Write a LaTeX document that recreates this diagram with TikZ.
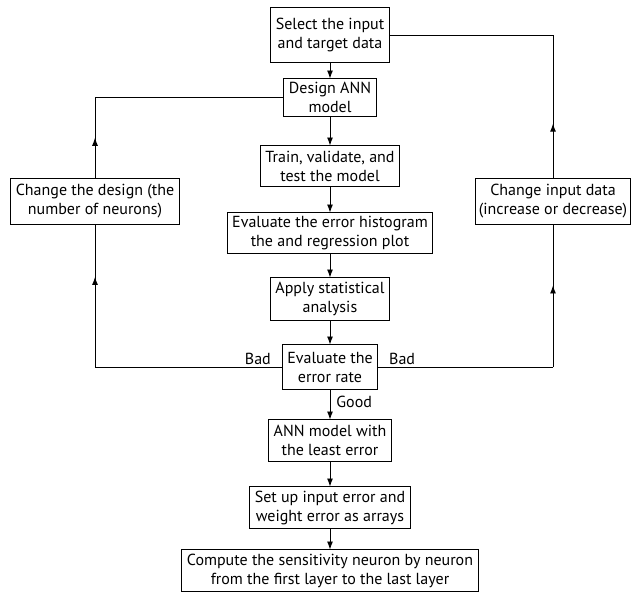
\documentclass[tikz,border=0pt]{standalone}
\usepackage{fontspec}
\setmainfont{PT Sans}
\usepackage{tikz}
\usetikzlibrary{arrows.meta,positioning,decorations.markings}
\tikzset{
  box/.style={rectangle, draw=black, line width=0.9pt, fill=white, align=center, inner xsep=5pt, inner ysep=1pt, outer sep=0pt, minimum height=42pt, font=\fontsize{16}{19}\selectfont},
  arrow/.style={-{Latex[length=8pt,width=6pt]}, line width=0.9pt},
  line/.style={line width=0.9pt},
  midarrow/.style={line width=0.9pt, postaction={decorate}, decoration={markings, mark=at position #1 with {\arrow{Latex[length=8pt,width=6pt]}}}},
  lbl/.style={font=\fontsize{16}{19}\selectfont}
}
\begin{document}
\begin{tikzpicture}[x=1pt, y=1pt]
  \useasboundingbox (0,0) rectangle (640,-595);
  \node[box, minimum height=55pt] (select) at (330,-35) {Select the input\\and target data};
  \node[box, minimum height=38pt, below=16pt of select] (design) {Design ANN\\model};
  \node[box, minimum height=41pt, below=29pt of design] (train) {Train, validate, and\\test the model};
  \node[box, minimum height=41pt, below=26pt of train] (histo) {Evaluate the error histogram\\the and regression plot};
  \node[box, minimum height=43pt, below=24pt of histo] (stats) {Apply statistical\\analysis};
  \node[box, minimum height=45pt, below=24pt of stats] (rate) {Evaluate the\\error rate};
  \node[box, below=30pt of rate] (least) {ANN model with\\the least error};
  \node[box, below=25pt of least] (arrays) {Set up input error and\\weight error as arrays};
  \node[box, below=21pt of arrays] (sens) {Compute the sensitivity neuron by neuron\\from the first layer to the last layer};
  \node[box, minimum height=46pt] (neurons) at (95,-201) {Change the design (the\\number of neurons)};
  \node[box, minimum height=46pt, inner xsep=3pt] (newdata) at (553,-201) {Change input data\\(increase or decrease)};
  \coordinate (lc) at (neurons.north |- design.west);
  \coordinate (rc) at (newdata.north |- select.east);

  \draw[arrow] (select) -- (design);
  \draw[arrow] (design) -- (train);
  \draw[arrow] (train) -- (histo);
  \draw[arrow] (histo) -- (stats);
  \draw[arrow] (stats) -- (rate);
  \draw[arrow] (rate) -- node[lbl, right, pos=0.42, inner xsep=6pt] {Good} (least);
  \draw[arrow] (least) -- (arrays);
  \draw[arrow] (arrays) -- (sens);

  % bad result: go back to the design
  \draw[line] (rate.west) -- node[lbl, anchor=south east, pos=0, inner xsep=11pt, inner ysep=2pt] {Bad} (rate.west -| neurons.south);
  \draw[midarrow=0.63] (rate.west -| neurons.south) -- (neurons.south);
  \draw[midarrow=0.5] (neurons.north) -- (lc);
  \draw[line] (lc) -- (design.west);

  % bad result: go back to the data
  \draw[line] (rate.east) -- node[lbl, anchor=south west, pos=0, inner xsep=11pt, inner ysep=2pt] {Bad} (rate.east -| newdata.south);
  \draw[midarrow=0.57] (rate.east -| newdata.south) -- (newdata.south);
  \draw[midarrow=0.38] (newdata.north) -- (rc);
  \draw[line] (rc) -- (select.east);
\end{tikzpicture}
\end{document}
